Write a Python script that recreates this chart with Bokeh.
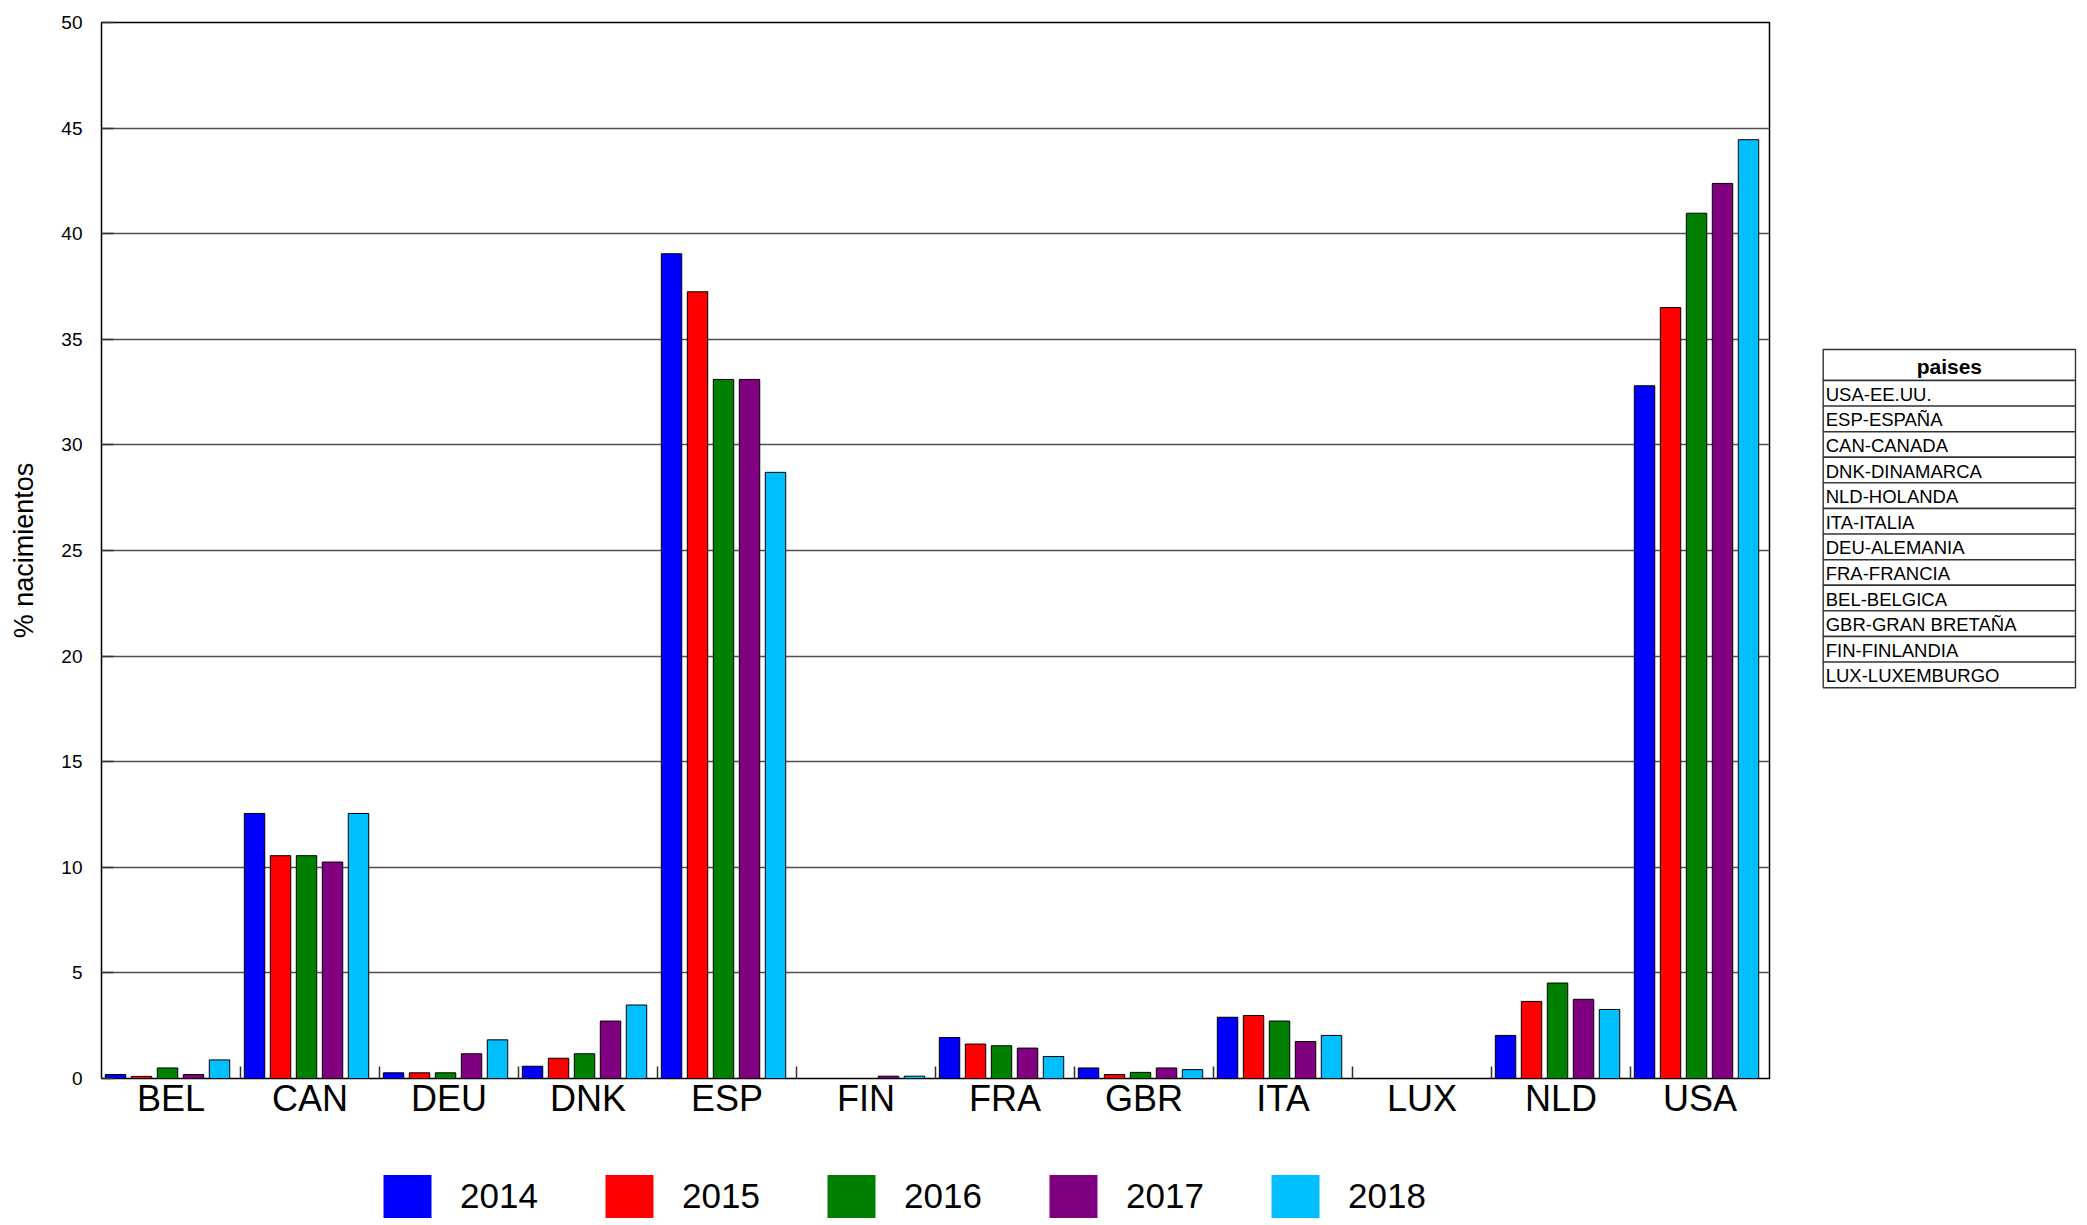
from bokeh.plotting import figure
from bokeh.models import Range1d, FixedTicker, Legend, LegendItem
from bokeh.layouts import row, column
from bokeh.embed import file_html
from bokeh.resources import INLINE
from bokeh.core.properties import value

# ---------------- data ----------------
countries = ["BEL", "CAN", "DEU", "DNK", "ESP", "FIN", "FRA", "GBR", "ITA", "LUX", "NLD", "USA"]
years = ["2014", "2015", "2016", "2017", "2018"]
v2014 = [0.19, 12.55, 0.27, 0.58, 39.05, 0.00, 1.94, 0.50, 2.90, 0.00, 2.04, 32.80]
v2015 = [0.10, 10.55, 0.27, 0.96, 37.25, 0.00, 1.63, 0.19, 2.98, 0.00, 3.65, 36.50]
v2016 = [0.50, 10.55, 0.27, 1.17, 33.10, 0.00, 1.55, 0.29, 2.72, 0.00, 4.52, 40.97]
v2017 = [0.19, 10.25, 1.17, 2.72, 33.10, 0.11, 1.44, 0.50, 1.75, 0.00, 3.75, 42.38]
v2018 = [0.88, 12.55, 1.83, 3.48, 28.70, 0.11, 1.04, 0.42, 2.04, 0.00, 3.27, 44.45]
series = [v2014, v2015, v2016, v2017, v2018]
y_ticks = [0, 5, 10, 15, 20, 25, 30, 35, 40, 45, 50]
y_label = "% nacimientos"
table_title = "paises"
table_rows = ["USA-EE.UU.", "ESP-ESPAÑA", "CAN-CANADA", "DNK-DINAMARCA", "NLD-HOLANDA",
              "ITA-ITALIA", "DEU-ALEMANIA", "FRA-FRANCIA", "BEL-BELGICA",
              "GBR-GRAN BRETAÑA", "FIN-FINLANDIA", "LUX-LUXEMBURGO"]

# ---------------- styles ----------------
colors = ["#0000FF", "#FF0000", "#008000", "#800080", "#00BFFF"]
FONT = "Liberation Sans"
n = len(countries)
FW, FH = 1668, 1056
ML, MR, MT, MB = 101, 31, 22, 60
LEG_H = 1225 - (MT + FH + MB)

p = figure(frame_width=FW, frame_height=FH,
           min_border_left=ML, min_border_right=MR, min_border_top=MT, min_border_bottom=MB,
           x_range=Range1d(0, n), y_range=Range1d(0, 50),
           output_backend="svg", toolbar_location=None, tools="")
p.background_fill_color = "white"
p.border_fill_color = "white"
p.outline_line_color = "black"
p.outline_line_width = 1.5

pitch = 0.187
bw = 0.147
center = 0.475
xs_list = []
for j, (vals, c) in enumerate(zip(series, colors)):
    xs = [i + center + (j - 2) * pitch for i in range(n)]
    xs_list.append(xs)
    p.vbar(x=xs, top=vals, bottom=0, width=bw, fill_color=c, line_color="black", line_width=1)

# y axis
p.yaxis.ticker = FixedTicker(ticks=y_ticks)
p.ygrid.ticker = FixedTicker(ticks=y_ticks)
p.ygrid.grid_line_color = "#505050"
p.ygrid.grid_line_width = 1.4
p.xgrid.grid_line_color = None
p.yaxis.major_tick_in = 12
p.yaxis.major_tick_out = 0
p.yaxis.major_tick_line_color = "#333333"
p.yaxis.major_tick_line_width = 1.5
p.yaxis.minor_tick_line_color = None
p.yaxis.axis_line_color = None
p.yaxis.major_label_standoff = 19
p.yaxis.major_label_text_font = FONT
p.yaxis.major_label_text_font_size = "19px"
p.yaxis.major_label_text_color = "black"
p.yaxis.axis_label = y_label
p.yaxis.axis_label_text_font = FONT
p.yaxis.axis_label_text_font_size = "27px"
p.yaxis.axis_label_text_font_style = "normal"
p.yaxis.axis_label_text_color = "black"
p.yaxis.axis_label_standoff = 19

# x axis
p.xaxis.ticker = FixedTicker(ticks=[i + 0.5 for i in range(n)],
                             minor_ticks=[i for i in range(1, n)])
p.xaxis.major_label_overrides = {i + 0.5: countries[i] for i in range(n)}
p.xaxis.major_tick_line_color = None
p.xaxis.minor_tick_in = 12
p.xaxis.minor_tick_out = 0
p.xaxis.minor_tick_line_color = "#333333"
p.xaxis.minor_tick_line_width = 1.5
p.xaxis.axis_line_color = None
p.xaxis.major_label_standoff = -7
p.xaxis.major_label_text_font = FONT
p.xaxis.major_label_text_font_size = "36px"
p.xaxis.major_label_text_color = "black"

# ---------------- table figure (frame aligned with the main frame) ----------------
TW = 287
t = figure(width=TW, frame_height=FH, min_border_top=MT, min_border_bottom=MB,
           x_range=Range1d(0, TW), y_range=Range1d(FH, 0),
           x_axis_location=None, y_axis_location=None, min_border_left=0, min_border_right=0,
           output_backend="svg", toolbar_location=None, tools="")
t.outline_line_color = None
t.grid.grid_line_color = None
t.background_fill_color = "white"
t.border_fill_color = "white"

tl, tr = 22.7, 275.0
top0 = 327.0
hh = 31.0
rh = 25.6
tops = [top0] + [top0 + hh + k * rh for k in range(len(table_rows))]
bots = [top0 + hh] + [top0 + hh + (k + 1) * rh for k in range(len(table_rows))]
t.quad(left=tl, right=tr, top=tops, bottom=bots, fill_color="white",
       line_color="#333333", line_width=1.4)
t.text(x=[(tl + tr) / 2], y=[top0 + hh / 2 + 1], text=[table_title], text_align="center",
       text_baseline="middle", text_font=value(FONT), text_font_size="21px",
       text_font_style="bold", text_color="black")
t.text(x=[tl + 2.5] * len(table_rows),
       y=[top0 + hh + (k + 0.5) * rh + 1 for k in range(len(table_rows))],
       text=table_rows, text_align="left", text_baseline="middle",
       text_font=value(FONT), text_font_size="18.5px", text_color="black")

# ---------------- legend strip (own figure; its proxy bars are hidden) ----------------
lf = figure(frame_width=FW, frame_height=LEG_H,
            min_border_left=ML, min_border_right=MR, min_border_top=0, min_border_bottom=0,
            x_range=Range1d(0, n), y_range=Range1d(-2, -1),
            x_axis_location=None, y_axis_location=None,
            output_backend="svg", toolbar_location=None, tools="")
lf.outline_line_color = None
lf.grid.grid_line_color = None
lf.background_fill_color = "white"
lf.border_fill_color = "white"
items = []
for vals, c, yr, xs in zip(series, colors, years, xs_list):
    r = lf.vbar(x=xs, top=vals, bottom=0, width=bw, fill_color=c, line_color=None)
    r.visible = False
    items.append(LegendItem(label=yr, renderers=[r]))
legend = Legend(items=items, orientation="horizontal", location=(276, 2),
                glyph_width=60, glyph_height=54, label_standoff=23, label_width=79,
                spacing=60, padding=0, margin=0, click_policy="none",
                border_line_alpha=0, background_fill_alpha=0,
                label_text_font=FONT, label_text_font_size="35px", label_text_color="black")
lf.add_layout(legend, "center")

layout = column(row(p, t), lf)
open("out.html", "w").write(file_html(layout, INLINE))
